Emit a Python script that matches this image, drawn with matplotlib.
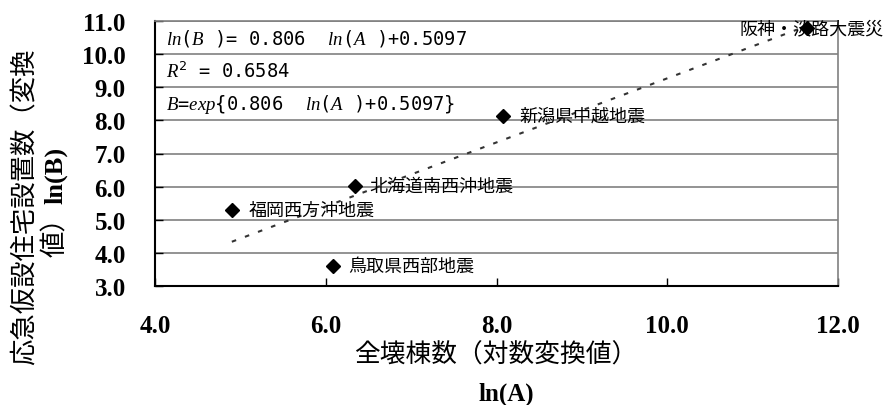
import matplotlib
matplotlib.use("Agg")
import matplotlib.pyplot as plt
import numpy as np

# data
quake_names = ["阪神・淡路大震災", "新潟県中越地震", "北海道南西沖地震", "福岡西方沖地震", "鳥取県西部地震"]
ln_a = [11.64, 8.08, 6.34, 4.90, 6.09]
ln_b = [10.79, 8.13, 6.01, 5.29, 3.60]
x_ticks = [4.0, 6.0, 8.0, 10.0, 12.0]
y_ticks = [3.0, 4.0, 5.0, 6.0, 7.0, 8.0, 9.0, 10.0, 11.0]
eq_lines = [r"$ln$($B$ )= 0.806  $ln$($A$ )+0.5097",
            r"$R^2$ = 0.6584",
            r"$B$=$exp${0.806  $ln$($A$ )+0.5097}"]

CJK = "Noto Sans CJK JP"
SERIF = "Liberation Serif"

plt.rcParams["mathtext.fontset"] = "custom"
plt.rcParams["mathtext.it"] = "Liberation Serif:italic"
plt.rcParams["mathtext.rm"] = "DejaVu Sans Mono"

fig = plt.figure(figsize=(8.85, 4.06), dpi=100)
ax = fig.add_axes([155 / 885, 1 - 287 / 406, 683 / 885, 265 / 406])

ax.set_xlim(4, 12)
ax.set_ylim(3, 11)
ax.set_xticks(x_ticks)
ax.set_yticks(y_ticks)
ax.set_xticklabels([f"{v:.1f}" for v in x_ticks], fontfamily=SERIF, fontweight="bold", fontsize=18)
ax.set_yticklabels([f"{v:.1f}" for v in y_ticks], fontfamily=SERIF, fontweight="bold", fontsize=18)
ax.tick_params(axis="both", direction="in", length=6, width=1, colors="black")
ax.tick_params(axis="x", pad=20)
ax.tick_params(axis="y", pad=21)
ax.yaxis.grid(True, color="#808080", linewidth=1.2)
ax.set_axisbelow(True)

for side in ["left", "bottom"]:
    ax.spines[side].set_color("black")
    ax.spines[side].set_linewidth(1.5)
for side in ["top", "right"]:
    ax.spines[side].set_color("#808080")
    ax.spines[side].set_linewidth(1.2)

# trend line (least squares of the plotted points)
slope, icpt = np.polyfit(ln_a, ln_b, 1)
xs = np.array([min(ln_a), max(ln_a)])
ax.plot(xs, slope * xs + icpt, color="#333333", linewidth=1.5, linestyle=(0, (2.2, 4.5)), zorder=2)

ax.plot(ln_a, ln_b, linestyle="none", marker="D", markersize=7.5, color="black", zorder=5)

# point labels
offsets = [(76, "right"), (16, "left"), (15, "left"), (17, "left"), (15, "left")]
for name, x, y, (dx, ha) in zip(quake_names, ln_a, ln_b, offsets):
    ax.annotate(name, (x, y), xytext=(dx, 0), textcoords="offset pixels",
                ha=ha, va="center", fontfamily=CJK, fontsize=13, annotation_clip=False,
                zorder=4)

# equation box rows
for i, line in enumerate(eq_lines):
    ax.text(4.13, 10.5 - i, line, fontfamily="DejaVu Sans Mono", fontsize=13.5,
            ha="left", va="center", zorder=4)

# axis titles
fig.text(496 / 885, 1 - 356 / 406, "全壊棟数（対数変換値）", fontfamily=CJK, fontsize=18.5,
         ha="center", va="center")
fig.text(506 / 885, 1 - 394 / 406, "ln(A)", fontfamily=SERIF, fontweight="bold", fontsize=18,
         ha="center", va="center")

fig.text(25 / 885, 1 - 207 / 406, "応急仮設住宅設置数（変換", fontfamily=CJK, fontsize=19,
         rotation=90, ha="center", va="center")
t2 = fig.text(56 / 885, 1 - 257 / 406, "値）", fontfamily=CJK, fontsize=19,
              rotation=90, ha="center", va="bottom")
ax.annotate("ln(B)", xy=(0.5, 1), xycoords=t2, xytext=(0, 0), textcoords="offset pixels",
            fontfamily=SERIF, fontweight="bold", fontsize=19, rotation=90,
            ha="center", va="bottom", annotation_clip=False)

fig.savefig("out.png", dpi=100, facecolor="white")
